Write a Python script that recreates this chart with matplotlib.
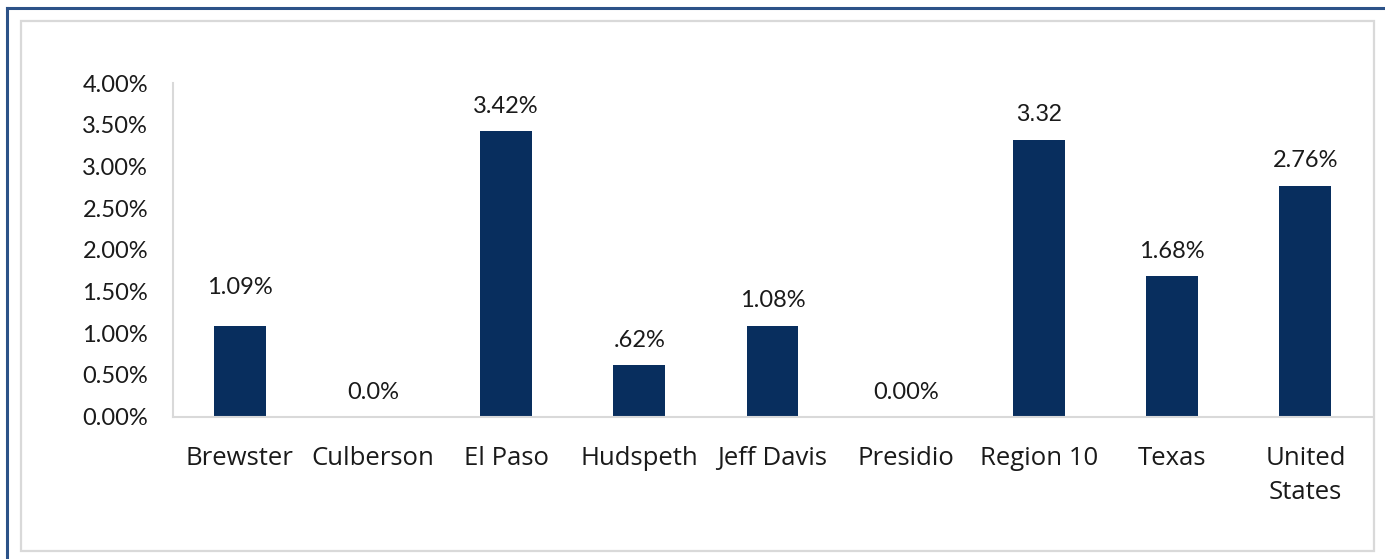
import matplotlib
matplotlib.use("Agg")
import matplotlib.pyplot as plt
from matplotlib.lines import Line2D
from matplotlib.patches import Rectangle
from matplotlib.ticker import FuncFormatter

categories = ["Brewster", "Culberson", "El Paso", "Hudspeth", "Jeff Davis",
              "Presidio", "Region 10", "Texas", "United\nStates"]
values = [1.09, 0.0, 3.42, 0.62, 1.08, 0.0, 3.32, 1.68, 2.76]
value_labels = ["1.09%", "0.0%", "3.42%", ".62%", "1.08%", "0.00%", "3.32", "1.68%", "2.76%"]
label_offsets = [38, 24, 25, 24, 26, 24, 25, 25, 26]  # pixels above bar top
label_fonts = ["Lato"] * 6 + ["Liberation Sans"] + ["Lato"] * 2

W, H = 1385, 559
fig = plt.figure(figsize=(W / 100, H / 100), dpi=100)

# dark-blue frame (left and top edges) and inner light-gray frame
fig.add_artist(Line2D([7 / W, 7 / W], [0, 1 - 8 / H], transform=fig.transFigure,
                      color="#2c5288", linewidth=2.2))
fig.add_artist(Line2D([7 / W, 1], [1 - 8 / H, 1 - 8 / H], transform=fig.transFigure,
                      color="#2c5288", linewidth=2.2))
fig.patches.append(Rectangle((20.5 / W, 1 - 551 / H), 1353 / W, 530 / H,
                             transform=fig.transFigure, fill=False,
                             edgecolor="#d9d9d9", linewidth=1.6))

ax = fig.add_axes([173 / W, 1 - 416.5 / H, 1199 / W, (416.5 - 83) / H])
x = range(len(categories))
ax.bar(x, values, width=0.39, color="#082e5e")
ax.set_xlim(-0.5, len(categories) - 0.5)
ax.set_ylim(0, 4.0)
ax.set_yticks([i * 0.5 for i in range(9)])
ax.yaxis.set_major_formatter(FuncFormatter(lambda v, _: f"{v:.2f}%"))
ax.set_xticks(list(x))
ax.set_xticklabels(categories, fontsize=18.5, family="Open Sans",
                   linespacing=1.5)
for lbl in ax.get_yticklabels():
    lbl.set_fontsize(17)
    lbl.set_family("Lato")
ax.tick_params(axis="both", length=0, colors="#1a1a1a")
ax.tick_params(axis="x", pad=21)
ax.tick_params(axis="y", pad=18)

for s in ["top", "right"]:
    ax.spines[s].set_visible(False)
for s in ["left", "bottom"]:
    ax.spines[s].set_color("#d9d9d9")
    ax.spines[s].set_linewidth(1.5)

for xi, v, lab, off, fam in zip(x, values, value_labels, label_offsets, label_fonts):
    ax.annotate(lab, (xi, v), xytext=(0, off * 0.72), textcoords="offset points",
                ha="center", va="center", fontsize=17,
                family=fam, color="#1a1a1a")

fig.savefig("out.png", dpi=100)
